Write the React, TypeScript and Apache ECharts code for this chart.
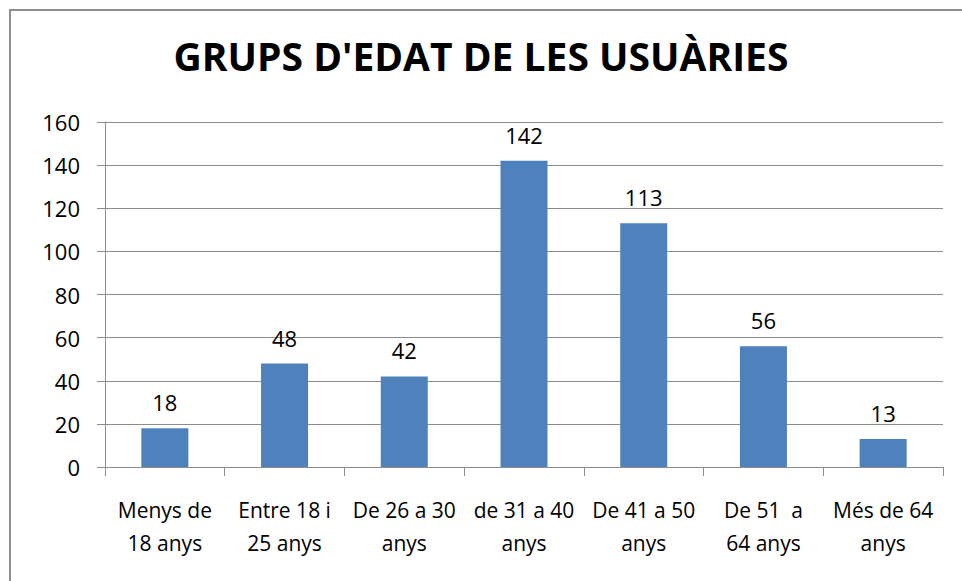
import React, { useEffect, useRef } from "react";
import * as echarts from "echarts";

const titleText = "GRUPS D'EDAT DE LES USUÀRIES";
const categories = [
  "Menys de\n18 anys",
  "Entre 18 i\n25 anys",
  "De 26 a 30\nanys",
  "de 31 a 40\nanys",
  "De 41 a 50\nanys",
  "De 51  a\n64 anys",
  "Més de 64\nanys",
];
const values = [18, 48, 42, 142, 113, 56, 13];
const yMin = 0;
const yMax = 160;
const yInterval = 20;

export default function App() {
  const ref = useRef<HTMLDivElement>(null);
  useEffect(() => {
    if (!ref.current) return;
    const chart = echarts.init(ref.current, null, { renderer: "svg" });
    const font = "'Open Sans', 'Liberation Sans', sans-serif";
    chart.setOption({
      animation: false,
      backgroundColor: "#ffffff",
      textStyle: { fontFamily: font },
      title: {
        text: titleText,
        left: "center",
        top: 31,
        textStyle: { fontFamily: font, fontWeight: "bold", fontSize: 39, color: "#000" },
      },
      graphic: [
        {
          type: "rect",
          shape: { x: 10, y: 10, width: 980, height: 600 },
          style: { fill: "none", stroke: "#8f8f8f", lineWidth: 2 },
          silent: true,
        },
      ],
      grid: { left: 105, right: 19, top: 122, bottom: 114, containLabel: false },
      xAxis: {
        type: "category",
        data: categories,
        axisLine: { show: true, lineStyle: { color: "#8c8c8c", width: 1 } },
        axisTick: { show: true, length: 9, lineStyle: { color: "#8c8c8c" } },
        axisLabel: {
          interval: 0,
          fontFamily: font,
          fontSize: 21,
          color: "#000",
          lineHeight: 33,
          margin: 26,
        },
        splitLine: { show: false },
      },
      yAxis: {
        type: "value",
        min: yMin,
        max: yMax,
        interval: yInterval,
        axisLine: { show: true, lineStyle: { color: "#8c8c8c", width: 1 } },
        axisTick: { show: true, length: 8, lineStyle: { color: "#8c8c8c" } },
        axisLabel: { fontFamily: font, fontSize: 22, color: "#000", margin: 25 },
        splitLine: { show: true, lineStyle: { color: "#8c8c8c", width: 1 } },
      },
      series: [
        {
          type: "bar",
          data: values,
          barWidth: 47,
          itemStyle: { color: "#4F81BD" },
          label: {
            show: true,
            position: "top",
            distance: 15,
            fontFamily: font,
            fontSize: 22,
            color: "#000",
          },
        },
      ],
    });
    return () => chart.dispose();
  }, []);
  return (
    <div
      ref={ref}
      style={{ position: "fixed", left: 0, top: 0, width: 962, height: 581 }}
    />
  );
}
